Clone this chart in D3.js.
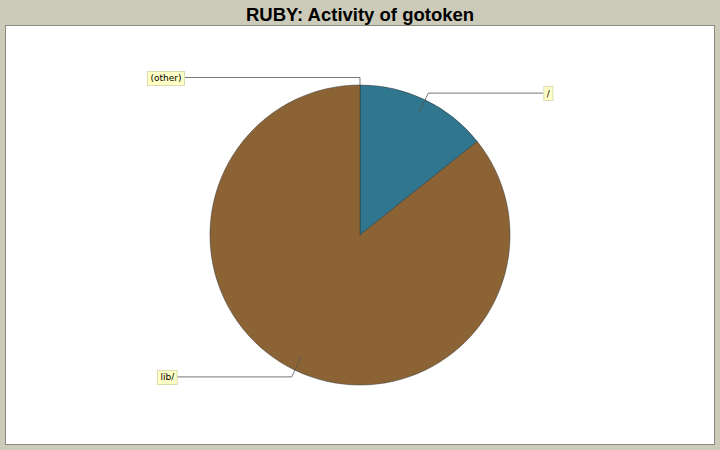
<!DOCTYPE html>
<html>
<head>
<meta charset="utf-8">
<script src="https://cdn.jsdelivr.net/npm/d3@7"></script>
<style>
  body { margin: 0; background: #cccbb9; }
  svg { display: block; }
</style>
</head>
<body>
<svg id="chart" width="720" height="450"></svg>
<script>
// slices, clockwise from 12 o'clock
const dirs = ['/', 'lib/', '(other)'];
const activity = [1, 6, 0];
const sliceColors = ['#31768f', '#8b6335', '#999999'];

const W = 720, H = 450;
const cx = 360, cy = 235, R = 150;

const svg = d3.select('#chart');

svg.append('rect')
    .attr('width', W).attr('height', H)
    .attr('fill', '#cccbb9');

// plot frame
svg.append('rect')
    .attr('x', 5.5).attr('y', 25.5)
    .attr('width', 709).attr('height', 419)
    .attr('fill', '#ffffff')
    .attr('stroke', '#8a8a80');

svg.append('text')
    .attr('x', W / 2).attr('y', 20.5)
    .attr('text-anchor', 'middle')
    .attr('font-family', 'Liberation Sans, Arial, sans-serif')
    .attr('font-weight', 'bold')
    .attr('font-size', 18.5)
    .attr('fill', '#000')
    .text('RUBY: Activity of gotoken');

const data = dirs.map((d, i) => ({ name: d, value: activity[i], color: sliceColors[i] }));

const pie = d3.pie().sort(null).value(d => d.value);
const arcs = pie(data);
const arc = d3.arc().innerRadius(0).outerRadius(R);

const g = svg.append('g').attr('transform', `translate(${cx},${cy})`);

g.selectAll('path.slice')
    .data(arcs.filter(a => a.value > 0))
    .join('path')
    .attr('class', 'slice')
    .attr('d', arc)
    .attr('fill', d => d.data.color)
    .attr('stroke', '#333')
    .attr('stroke-width', 0.5);

// label leaders: inner point -> elbow -> horizontal to the box
const inner = d3.arc().innerRadius(R * 0.9).outerRadius(R * 0.9);
const outer = d3.arc().innerRadius(R * 1.05).outerRadius(R * 1.05);

const labels = g.selectAll('g.lab')
    .data(arcs)
    .join('g')
    .attr('class', 'lab');

labels.each(function (d) {
    const mid = (d.startAngle + d.endAngle) / 2;
    const right = mid > 1e-6 && mid < Math.PI;
    const pA = d.value > 0 ? inner.centroid(d) : [Math.sin(mid) * R, -Math.cos(mid) * R];
    const pB = outer.centroid(d);
    const xEnd = right ? Math.max(pB[0] + 115, R + 26) : Math.min(pB[0] - 115, -(R + 26));
    const el = d3.select(this);

    el.append('polyline')
        .attr('points', [pA, pB, [xEnd, pB[1]]].map(p => p.join(',')).join(' '))
        .attr('fill', 'none')
        .attr('stroke', '#555')
        .attr('stroke-width', 0.8);

    const t = el.append('text')
        .attr('font-family', 'DejaVu Sans, sans-serif')
        .attr('font-size', 9)
        .attr('fill', '#000')
        .attr('dominant-baseline', 'central')
        .text(d.data.name);
    const tw = t.node().getComputedTextLength();
    const bw = tw + 6, bh = 14;
    const bx = right ? xEnd : xEnd - bw;
    el.insert('rect', 'text')
        .attr('x', bx + 0.5).attr('y', Math.round(pB[1] - bh / 2) + 0.5)
        .attr('width', bw).attr('height', bh)
        .attr('fill', '#ffffc6')
        .attr('stroke', '#dcdcb0');
    t.attr('x', bx + 3.5).attr('y', pB[1] + 0.5);
});
</script>
</body>
</html>
